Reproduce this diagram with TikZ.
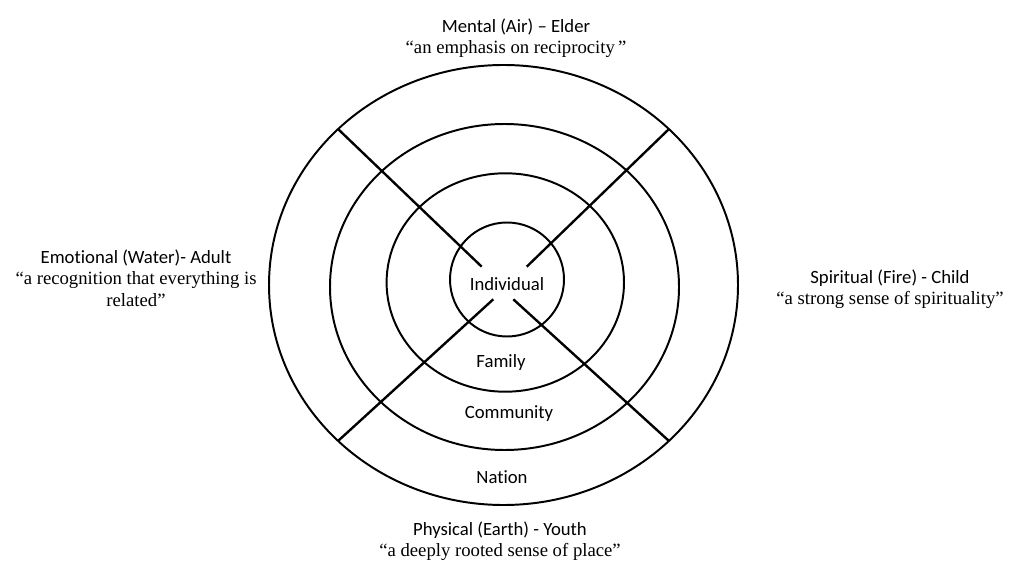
\documentclass[tikz,border=0pt]{standalone}
\usepackage{fontspec}
\setmainfont{Liberation Serif}
\setsansfont[Ligatures=NoCommon]{Carlito}
\begin{document}
\begin{tikzpicture}[x=0.025cm,y=-0.025cm,
    ring/.style={line width=1.4pt},
    spoke/.style={line width=1.7pt},
    lbl/.style={font=\sffamily\fontsize{13.3}{16}\selectfont,inner sep=0pt},
    quad/.style={align=center,inner sep=0pt,font=\fontsize{13.3}{15.3}\selectfont}]
  \useasboundingbox[fill=white] (0,0) rectangle (1024,576);
  \draw[ring]
    (503.5,285) ellipse [x radius=234.5, y radius=220]
    (504.5,287) ellipse [x radius=174.5, y radius=163]
    (505.3,282.5) ellipse [x radius=118.7, y radius=109.2]
    (507,279.5) circle [radius=57];
  \coordinate (ul) at (338,129);
  \coordinate (ur) at (669,129);
  \coordinate (ll) at (338,441);
  \coordinate (lr) at (669,441);
  \coordinate (ulc) at (481.7,266.7);
  \coordinate (urc) at (526.7,266.7);
  \coordinate (llc) at (493.3,299.3);
  \coordinate (lrc) at (513.3,299.3);
  \begin{scope}[spoke]
    \draw (ul) -- (ulc);
    \draw (ur) -- (urc);
    \draw (ll) -- (llc);
    \draw (lr) -- (lrc);
  \end{scope}
  \draw
    (507,284) node[lbl] (indiv) {Individual}
    (501,363) node[lbl] (family) {Family}
    (509,414) node[lbl] (community) {Community}
    (502,477) node[lbl] (nation) {Nation};
  \draw
    (516,38) node[quad] (mental)
      {{\sffamily Mental (Air) – Elder}\\“an emphasis on reciprocity\,”}
    (136,278) node[quad] (emotional)
      {{\sffamily Emotional (Water)- Adult}\\“a recognition that everything is\\related”}
    (890,289) node[quad] (spiritual)
      {{\sffamily Spiritual (Fire) - Child}\\“a strong sense of spirituality”}
    (500,541) node[quad] (physical)
      {{\sffamily Physical (Earth) - Youth}\\“a deeply rooted sense of place”};
\end{tikzpicture}
\end{document}
